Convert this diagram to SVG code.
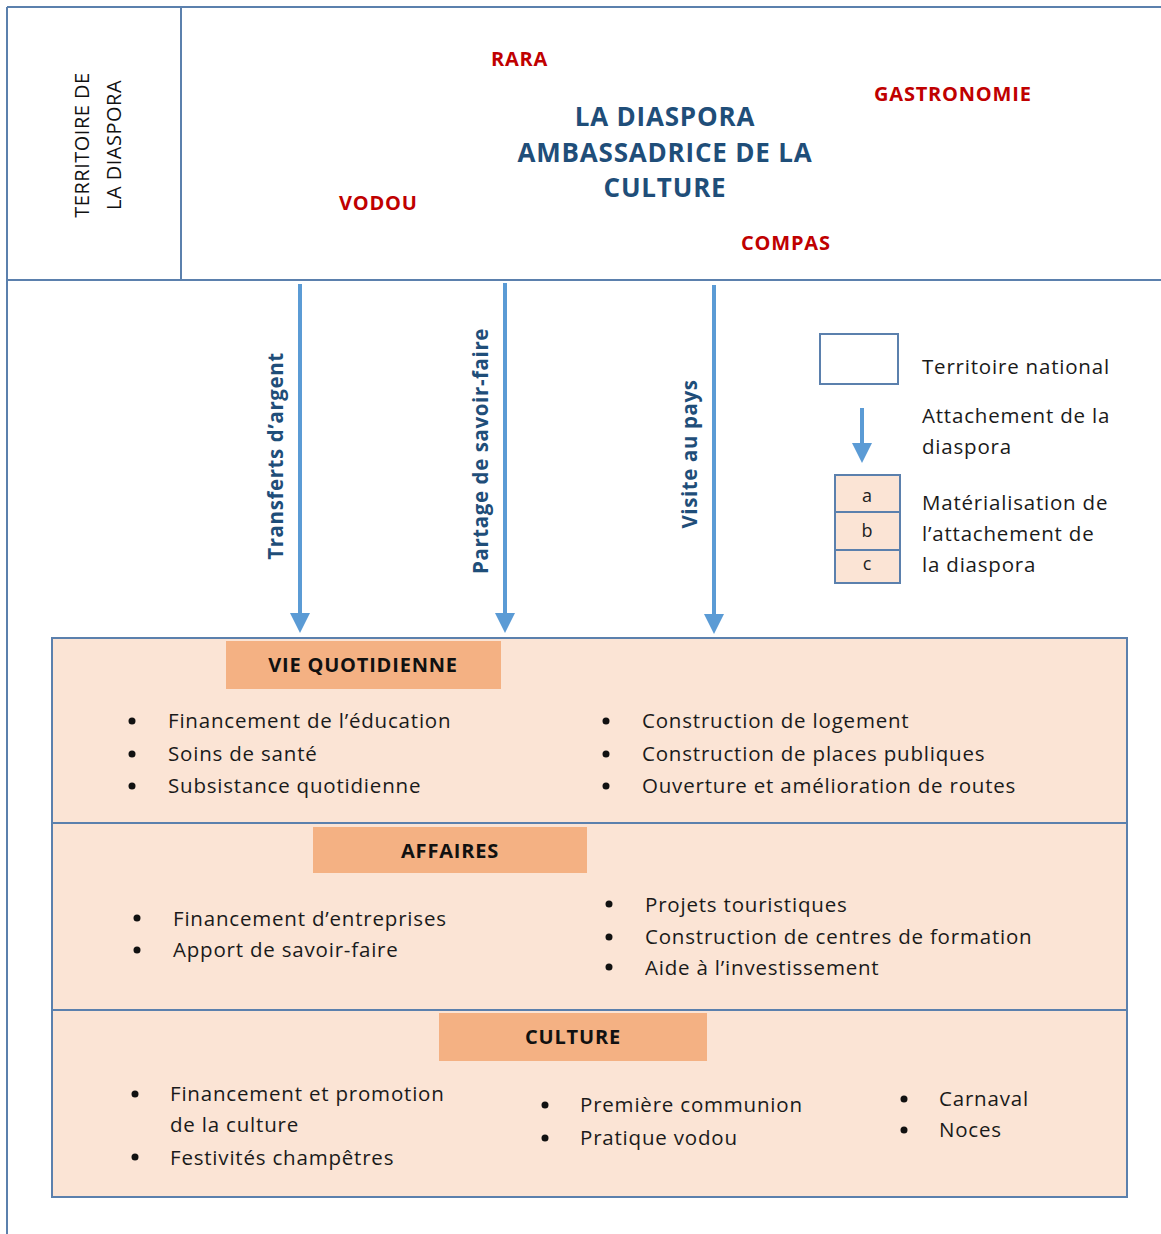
<svg xmlns="http://www.w3.org/2000/svg" width="1161" height="1234" viewBox="0 0 1161 1234">
<style>
.frame{fill:none;stroke:#5b80ad;stroke-width:2}
.panel{fill:#fbe4d5;stroke:#5b80ad;stroke-width:2}
.tab{fill:#f4b183}
.t{font-family:"Open Sans",sans-serif;font-size:20.5px;letter-spacing:0.8px;fill:#1a1a1a}
.tabt{font-family:"Open Sans",sans-serif;font-size:20px;letter-spacing:0.8px;font-weight:bold;fill:#111;text-anchor:middle}
.red{font-family:"Open Sans",sans-serif;font-size:20px;letter-spacing:0.8px;font-weight:bold;fill:#c00000}
.title{font-family:"Open Sans",sans-serif;font-size:26px;letter-spacing:0.8px;font-weight:bold;fill:#1f4e79;text-anchor:middle}
.vlab{font-family:"Open Sans",sans-serif;font-size:20.5px;letter-spacing:0.6px;font-weight:bold;fill:#1f4e79;text-anchor:middle}
.side{font-family:"Open Sans",sans-serif;font-size:20px;letter-spacing:0.5px;fill:#111;text-anchor:middle}
.arrow{stroke:#5b9bd5;stroke-width:4;fill:none}
.bul{fill:#111}
.leg{font-family:"Open Sans",sans-serif;font-size:20.5px;letter-spacing:0.8px;fill:#1a1a1a}
.abc{font-family:"Open Sans",sans-serif;font-size:18px;fill:#222;text-anchor:middle}
</style>
<defs>
<marker id="ah" markerWidth="6" markerHeight="5" refX="1" refY="2.5" orient="auto" markerUnits="strokeWidth">
<path d="M0,0 L5,2.5 L0,5 z" fill="#5b9bd5"/>
</marker>
</defs>
<rect width="1161" height="1234" fill="#fff"/>

<g id="frame">
<line class="frame" x1="7" y1="7" x2="1161" y2="7"/>
<line class="frame" x1="7" y1="280" x2="1161" y2="280"/>
<line class="frame" x1="7" y1="7" x2="7" y2="1234"/>
<line class="frame" x1="181" y1="7" x2="181" y2="280"/>
</g>

<g id="territoire-diaspora">
<text class="side" transform="translate(89,145) rotate(-90)">TERRITOIRE DE</text>
<text class="side" transform="translate(121,145) rotate(-90)">LA DIASPORA</text>
</g>

<g id="culture-header">
<text class="title" x="665" y="126">LA DIASPORA</text>
<text class="title" x="665" y="162">AMBASSADRICE DE LA</text>
<text class="title" x="665" y="197">CULTURE</text>
<text class="red" x="491" y="66">RARA</text>
<text class="red" x="874" y="101">GASTRONOMIE</text>
<text class="red" x="339" y="210">VODOU</text>
<text class="red" x="741" y="250">COMPAS</text>
</g>

<g id="connectors">
<line class="arrow" x1="300" y1="284" x2="300" y2="617" marker-end="url(#ah)"/>
<line class="arrow" x1="505" y1="283" x2="505" y2="617" marker-end="url(#ah)"/>
<line class="arrow" x1="714" y1="285" x2="714" y2="618" marker-end="url(#ah)"/>
<text class="vlab" transform="translate(283,456) rotate(-90)">Transferts d’argent</text>
<text class="vlab" transform="translate(488,451) rotate(-90)">Partage de savoir-faire</text>
<text class="vlab" transform="translate(697,454) rotate(-90)">Visite au pays</text>
</g>

<g id="legend">
<rect class="frame" x="820" y="334" width="78" height="50" fill="#fff"/>
<text class="leg" x="922" y="374">Territoire national</text>
<line class="arrow" x1="862" y1="408" x2="862" y2="447" stroke-width="3" marker-end="url(#ah)"/>
<text class="leg" x="922" y="423">Attachement de la</text>
<text class="leg" x="922" y="454">diaspora</text>
<rect class="panel" x="835" y="475" width="65" height="108"/>
<line class="frame" x1="835" y1="512" x2="900" y2="512"/>
<line class="frame" x1="835" y1="550" x2="900" y2="550"/>
<text class="abc" x="867" y="502">a</text>
<text class="abc" x="867" y="537">b</text>
<text class="abc" x="867" y="570">c</text>
<text class="leg" x="922" y="510">Matérialisation de</text>
<text class="leg" x="922" y="541">l’attachement de</text>
<text class="leg" x="922" y="572">la diaspora</text>
</g>

<g id="panel-bg">
<rect class="panel" x="52" y="638" width="1075" height="559"/>
<line class="frame" x1="52" y1="823" x2="1127" y2="823"/>
<line class="frame" x1="52" y1="1010" x2="1127" y2="1010" stroke-width="3"/>
</g>

<g id="vie-quotidienne">
<rect class="tab" x="226" y="641" width="275" height="48"/>
<text class="tabt" x="363" y="672">VIE QUOTIDIENNE</text>
<circle class="bul" cx="132" cy="721" r="3.5"/>
<circle class="bul" cx="132" cy="754" r="3.5"/>
<circle class="bul" cx="132" cy="786" r="3.5"/>
<text class="t" x="168" y="728">Financement de l’éducation</text>
<text class="t" x="168" y="761">Soins de santé</text>
<text class="t" x="168" y="793">Subsistance quotidienne</text>
<circle class="bul" cx="606" cy="721" r="3.5"/>
<circle class="bul" cx="606" cy="754" r="3.5"/>
<circle class="bul" cx="606" cy="786" r="3.5"/>
<text class="t" x="642" y="728">Construction de logement</text>
<text class="t" x="642" y="761">Construction de places publiques</text>
<text class="t" x="642" y="793">Ouverture et amélioration de routes</text>
</g>

<g id="affaires">
<rect class="tab" x="313" y="827" width="274" height="46"/>
<text class="tabt" x="450" y="858">AFFAIRES</text>
<circle class="bul" cx="137" cy="918" r="3.5"/>
<circle class="bul" cx="137" cy="950" r="3.5"/>
<text class="t" x="173" y="926">Financement d’entreprises</text>
<text class="t" x="173" y="957">Apport de savoir-faire</text>
<circle class="bul" cx="609" cy="904" r="3.5"/>
<circle class="bul" cx="609" cy="937" r="3.5"/>
<circle class="bul" cx="609" cy="967" r="3.5"/>
<text class="t" x="645" y="912">Projets touristiques</text>
<text class="t" x="645" y="944">Construction de centres de formation</text>
<text class="t" x="645" y="975">Aide à l’investissement</text>
</g>

<g id="culture">
<rect class="tab" x="439" y="1013" width="268" height="48"/>
<text class="tabt" x="573" y="1044">CULTURE</text>
<circle class="bul" cx="135" cy="1094" r="3.5"/>
<circle class="bul" cx="135" cy="1157" r="3.5"/>
<text class="t" x="170" y="1101">Financement et promotion</text>
<text class="t" x="170" y="1132">de la culture</text>
<text class="t" x="170" y="1165">Festivités champêtres</text>
<circle class="bul" cx="545" cy="1105" r="3.5"/>
<circle class="bul" cx="545" cy="1138" r="3.5"/>
<text class="t" x="580" y="1112">Première communion</text>
<text class="t" x="580" y="1145">Pratique vodou</text>
<circle class="bul" cx="904" cy="1099" r="3.5"/>
<circle class="bul" cx="904" cy="1130" r="3.5"/>
<text class="t" x="939" y="1106">Carnaval</text>
<text class="t" x="939" y="1137">Noces</text>
</g>
</svg>
